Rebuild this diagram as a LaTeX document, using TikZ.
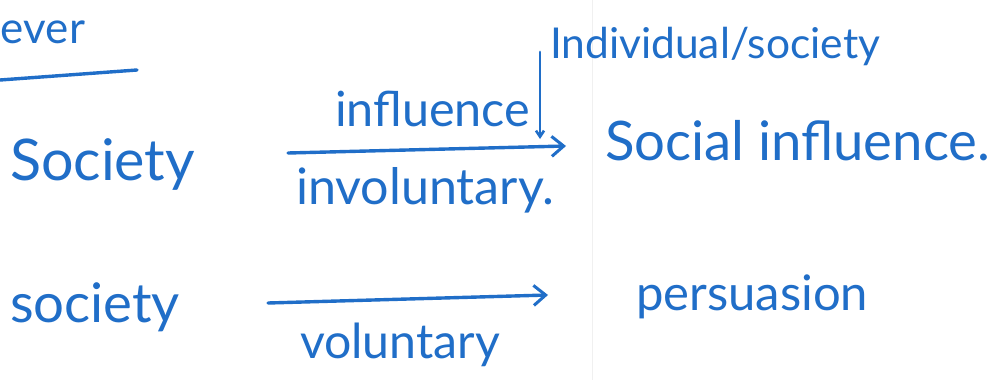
\documentclass[tikz,border=0pt]{standalone}
\usepackage{fontspec}
\usepackage{graphicx}
\setmainfont{Lato}
\usetikzlibrary{arrows.meta}
\definecolor{ink}{RGB}{32,110,200}
\newcommand\fitw[2]{\resizebox{#1pt}{!}{#2}}
\tikzset{
  hw/.style={inner sep=0pt, outer sep=0pt, text=ink, anchor=base west},
  pen/.style={draw=ink, line width=3.4pt, line cap=round},
  penarrow/.style={pen, -{Straight Barb[length=12pt,width=20pt,line width=3pt]}},
  smallarrow/.style={pen, line width=2.8pt, -{Straight Barb[length=6pt,width=8pt,line width=2.6pt]}}
}
\begin{document}
\begin{tikzpicture}[x=1pt,y=-1pt]
\useasboundingbox (0,0) rectangle (998,380);
\fill[white] (0,0) rectangle (998,380);
% faint paper ruling
\draw[black!6, line width=1pt] (592,0) -- (592,380);
\node[hw] (ever) at (1,43) {\fitw{84}{ever}};
\coordinate (ul1) at (0,80);
\coordinate (ul2) at (137,70);
\draw[pen] (ul1) -- (ul2);
\node[hw] (soc1) at (10,180) {\fitw{185}{Society}};
\node[hw] (infl) at (335,126) {\fitw{195}{influence}};
\node[hw] (invol) at (296,204) {\fitw{258}{involuntary.}};
\node[hw] (indiv) at (550,58) {\fitw{330}{Individual/society}};
\node[hw] (socinf) at (605,160) {\fitw{385}{Social influence.}};
\node[hw] (soc2) at (10,322) {\fitw{170}{society}};
\node[hw] (vol) at (300,358) {\fitw{200}{voluntary}};
\node[hw] (pers) at (636,310) {\fitw{232}{persuasion}};
\coordinate (a1s) at (288,153);
\coordinate (a1e) at (566,146);
\draw[penarrow] (a1s) -- (a1e);
\coordinate (vs) at (540,52);
\coordinate (ve) at (540,139);
\draw[smallarrow] (vs) -- (ve);
\coordinate (a2s) at (268,303);
\coordinate (a2e) at (548,295);
\draw[penarrow] (a2s) -- (a2e);
\end{tikzpicture}
\end{document}
